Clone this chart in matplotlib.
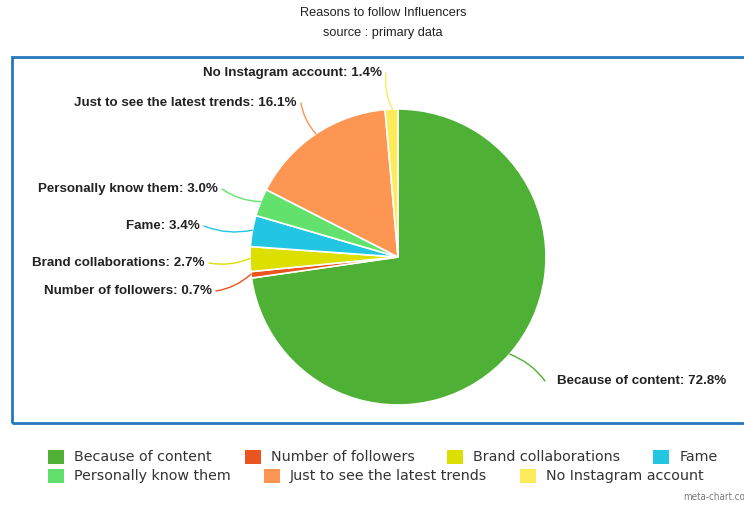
import numpy as np
import matplotlib.pyplot as plt
from matplotlib import font_manager as fm
from matplotlib.patches import Rectangle, Patch

# data
labels = ['Because of content', 'Number of followers', 'Brand collaborations', 'Fame',
          'Personally know them', 'Just to see the latest trends', 'No Instagram account']
shares = [72.8, 0.7, 2.7, 3.4, 3.0, 16.1, 1.4]
colors = ['#4eb034', '#e9541f', '#dcdf00', '#22c6e2', '#62e26c', '#fd9553', '#fdeb5a']

W, H = 744, 505
# pixel layout (y from top)
cx, cy, rad = 398, 257, 148
label_pos = [(557, 381, 'left'), (212, 291, 'right'), (205, 263, 'right'), (200, 226, 'right'),
             (218, 189, 'right'), (297, 103, 'right'), (382, 73, 'right')]

legend_font = fm.FontProperties(family='DejaVu Sans', size=10.3)

fig = plt.figure(figsize=(W / 100, H / 100), dpi=100)
ax = fig.add_axes([0, 0, 1, 1])

# frame around the plot area
ax.add_patch(Rectangle((12, H - 423), 760, 366, fill=False, edgecolor='#2578c0', lw=2.0))

wedges, _ = ax.pie(shares, colors=colors, startangle=90, counterclock=False,
                   center=(cx, H - cy), radius=rad, frame=True,
                   wedgeprops=dict(edgecolor='white', linewidth=1.2))
ax.set_xlim(0, W)
ax.set_ylim(0, H)
ax.set_aspect('equal')
ax.axis('off')

# labels with connector lines
cum = 0
for lab, val, col, (tx, ty, ha) in zip(labels, shares, colors, label_pos):
    mid = (cum + val / 2) / 100 * 2 * np.pi
    cum += val
    sx = cx + rad * np.sin(mid)
    sy = cy - rad * np.cos(mid)
    ex = tx + 4 if ha == 'right' else tx - 12
    ax.annotate('', xy=(sx, H - sy), xytext=(ex, H - ty),
                arrowprops=dict(arrowstyle='-', color=col, lw=1.0,
                                connectionstyle='arc3,rad=0.15', shrinkA=0, shrinkB=0))
    ax.text(tx, H - ty, f'{lab}: {val:.1f}%', ha=ha, va='center', fontsize=9.6,
            fontweight='bold', family='Liberation Sans', color='#222222')

fig.text(383 / W, 1 - 13 / H, 'Reasons to follow Influencers', ha='center', va='center',
         fontsize=9.2, family='Liberation Sans', color='#222222')
fig.text(383 / W, 1 - 33 / H, 'source : primary data', ha='center', va='center',
         fontsize=9.2, family='Liberation Sans', color='#222222')

rows = [[0, 1, 2, 3], [4, 5, 6]]
row_y = [457, 476]
for idx, yy in zip(rows, row_y):
    handles = [Patch(facecolor=colors[i], edgecolor='none') for i in idx]
    fig.legend(handles, [labels[i] for i in idx], loc='center left',
               bbox_to_anchor=(48 / W, 1 - yy / H), ncol=len(idx), frameon=False,
               prop=legend_font, handlelength=1.12, handleheight=1.12, handletextpad=0.7,
               columnspacing=2.3, borderpad=0, borderaxespad=0, labelcolor='#333333')

fig.text(683 / W, 1 - 497 / H, 'meta-chart.co', ha='left', va='center',
         color='#777777', fontproperties=fm.FontProperties(family='DejaVu Sans', stretch='condensed', size=7))

fig.savefig('out.png', dpi=100)
